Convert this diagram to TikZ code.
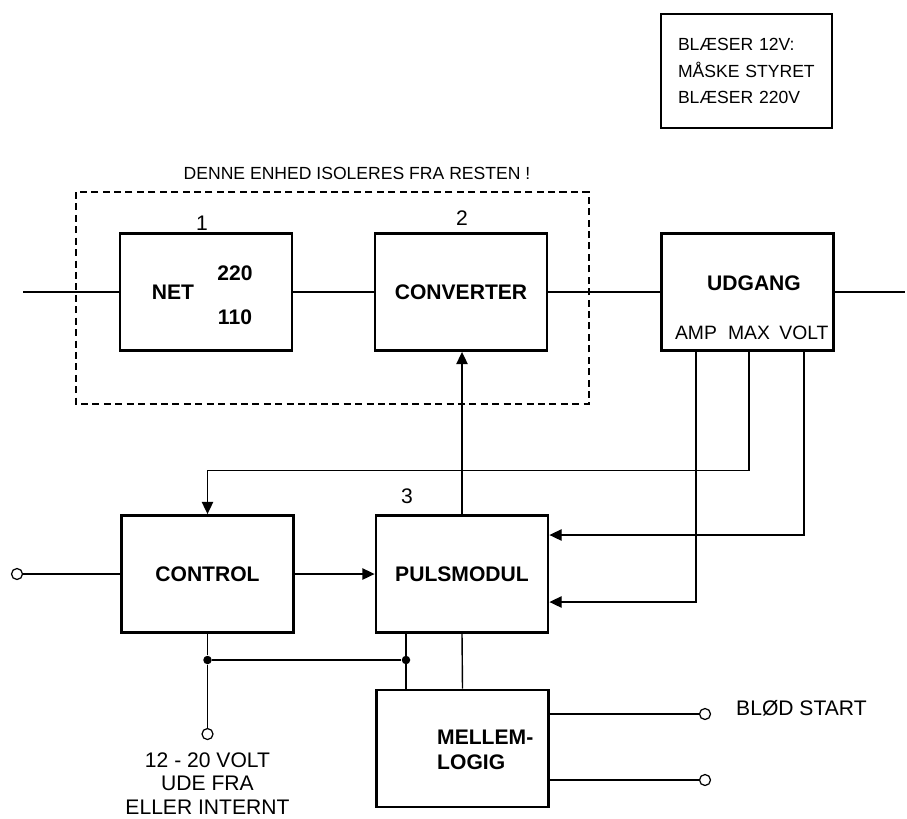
\documentclass[tikz,border=0pt]{standalone}
\usepackage{fontspec}
\setmainfont{Liberation Sans}
\usetikzlibrary{positioning,arrows.meta}

\begin{document}
\begin{tikzpicture}[
  arrow/.style={-{Triangle[length=7pt,width=6.5pt]}, line width=0.8pt},
  wire/.style={line width=0.8pt},
  block/.style={draw, line width=1.6pt, minimum width=3.44cm, minimum height=2.34cm, inner sep=0pt},
  lbl/.style={font=\bfseries\fontsize{12}{14.2}\selectfont},
  txt/.style={font=\fontsize{12}{13.6}\selectfont},
  tap/.style={font=\fontsize{11}{13}\selectfont, inner sep=0pt},
  term/.style={circle, draw, line width=0.7pt, fill=white, minimum size=0.22cm, inner sep=0pt},
  dot/.style={circle, fill, minimum size=0.17cm, inner sep=0pt}
]
\useasboundingbox (0,0) rectangle (18.14,-16.36);

%% ── Row heights ──────────────────────────────────────────────────────
\def\yT{-5.84}   % net / converter / udgang
\def\yB{-11.48}  % control / pulsmodul
\def\yM{-14.97}  % mellemlogig

%% ── Note box ─────────────────────────────────────────────────────────
\node[draw, line width=1.3pt, minimum width=3.42cm, minimum height=2.28cm,
      text width=2.74cm, inner xsep=0.34cm, align=left,
      font=\fontsize{10}{15.3}\selectfont] (note) at (14.93,-1.42)
    {BLÆSER 12V:\\MÅSKE STYRET\\BLÆSER 220V};

%% ── Isolated unit (dashed) ───────────────────────────────────────────
\draw[dashed, line width=0.8pt, dash pattern=on 4pt off 2.5pt]
    (1.52,-3.84) rectangle (11.78,-8.08);
\node[font=\fontsize{10}{12}\selectfont] (title) at (7.14,-3.46)
    {DENNE ENHED ISOLERES FRA RESTEN !};

%% ── Blocks ───────────────────────────────────────────────────────────
\node[block] (net) at (4.12,\yT) {};
\node[block, lbl] (conv) at (9.22,\yT) {CONVERTER};
\node[block] (udg) at (14.95,\yT) {};
\node[block, lbl] (ctrl) at (4.15,\yB) {CONTROL};
\node[block, lbl] (puls) at (9.24,\yB) {PULSMODUL};
\node[block] (mell) at (9.25,\yM) {};

%% ── Block texts ──────────────────────────────────────────────────────
\node[lbl] (netlbl) at (3.46,\yT) {NET};
\node[lbl] (v220) at (4.7,-5.46) {220};
\node[lbl] (v110) at (4.7,-6.34) {110};
\node[lbl] (udglbl) at (15.08,-5.66) {UDGANG};
\node[lbl, align=left, anchor=west] (melllbl) at (8.62,-15.0) {MELLEM-\\LOGIG};

\node[txt] (n1) at (4.04,-4.46) {1};
\node[txt] (n2) at (9.24,-4.36) {2};
\node[txt] (n3) at (8.14,-9.92) {3};

%% ── Udgang taps ──────────────────────────────────────────────────────
\coordinate (amp)  at ([xshift=-1.03cm]udg.south);
\coordinate (max)  at ([xshift=0.03cm]udg.south);
\coordinate (volt) at ([xshift=1.13cm]udg.south);
\node[tap, anchor=base] (amplbl)  at ([yshift=0.25cm]amp)  {AMP};
\node[tap, anchor=base] (maxlbl)  at ([yshift=0.25cm]max)  {MAX};
\node[tap, anchor=base] (voltlbl) at ([yshift=0.25cm]volt) {VOLT};

%% ── Main power path ──────────────────────────────────────────────────
\coordinate (inL)  at (0.46,\yT);
\coordinate (outR) at (18.1,\yT);
\draw[wire] (inL) -- (net.west);
\draw[wire] (net.east) -- (conv.west);
\draw[wire] (conv.east) -- (udg.west);
\draw[wire] (udg.east) -- (outR);

%% ── Control loop ─────────────────────────────────────────────────────
\node[term] (tin) at (0.34,\yB) {};
\draw[wire] (tin) -- (ctrl.west);
\draw[arrow] (ctrl.east) -- (puls.west);
\draw[arrow] (puls.north) -- (puls.north |- conv.south);

\coordinate (fb) at ([yshift=0.87cm]ctrl.north);
\draw[arrow] (max) |- (fb) -- (ctrl.north);

\coordinate (vin) at ([yshift=0.78cm]puls.east);
\coordinate (ain) at ([yshift=-0.56cm]puls.east);
\draw[arrow] (volt) |- (vin);
\draw[arrow] (amp) |- (ain);

%% ── Supply and mellemlogig ───────────────────────────────────────────
\node[term, below=1.88cm of ctrl] (tsup) {};
\node[txt, align=center, below=0.12cm of tsup] (suptxt)
    {12 - 20 VOLT\\UDE FRA\\ELLER INTERNT};

\node[dot] (jR) at (8.12,-13.2) {};
\node[dot] (jL) at (ctrl.south |- jR) {};
\draw[wire] (ctrl.south) -- (jL) -- (tsup);
\draw[wire] (jL) -- (jR);
\draw[wire] (puls.south -| jR) -- (mell.north -| jR);
\draw[wire] (puls.south) -- (mell.north);

\node[term] (tsoft) at (14.1,-14.28) {};
\node[term] (tout)  at (14.1,-15.6) {};
\draw[wire] (mell.east |- tsoft) -- (tsoft);
\draw[wire] (mell.east |- tout) -- (tout);
\node[txt, anchor=west] (softlbl) at (14.6,-14.16) {BLØD START};

\end{tikzpicture}
\end{document}
